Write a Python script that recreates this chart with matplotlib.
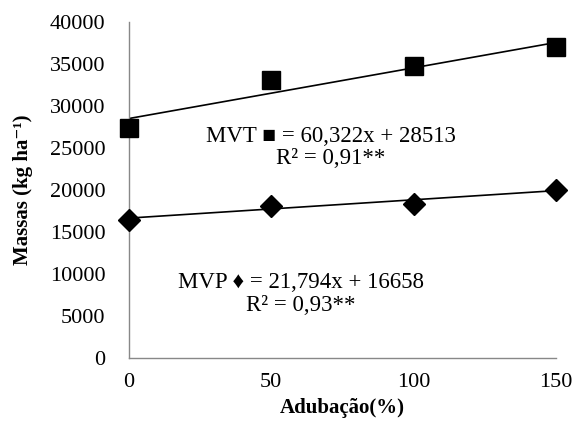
import numpy as np
import matplotlib.pyplot as plt

"------------------------------------DATA------------------------------------"
adubacao = [0, 50, 100, 150]
mvt = [27400, 33100, 34750, 37000]
mvp = [16450, 18100, 18350, 20000]

# regression coefficients shown on the chart
mvt_slope, mvt_inter = 60.322, 28513
mvp_slope, mvp_inter = 21.794, 16658

yticks = [0, 5000, 10000, 15000, 20000, 25000, 30000, 35000, 40000]
xticks = [0, 50, 100, 150]

"------------------------------------PLOT------------------------------------"
plt.rcParams['font.family'] = ['Liberation Serif', 'DejaVu Serif']

fig = plt.figure(figsize=(5.79, 4.21), dpi=100)
ax = fig.add_axes([0.2228, 0.1496, 0.7372, 0.7981])

x_fit = np.array([adubacao[0], adubacao[-1]])
ax.plot(x_fit, mvt_slope*x_fit + mvt_inter, color='black', lw=1.2)
ax.plot(x_fit, mvp_slope*x_fit + mvp_inter, color='black', lw=1.2)

ax.plot(adubacao, mvt, ls='none', marker='s', ms=13, color='black', clip_on=False, zorder=3)
ax.plot(adubacao, mvp, ls='none', marker='D', ms=11.5, color='black', clip_on=False, zorder=3)

ax.set_xlim(0, 150)
ax.set_ylim(0, 40000)
ax.set_xticks(xticks)
ax.set_yticks(yticks)
ax.tick_params(axis='both', length=0, labelsize=16)
ax.tick_params(axis='y', pad=17)
ax.tick_params(axis='x', pad=11)

for side in ['top', 'right']:
    ax.spines[side].set_visible(False)
for side in ['left', 'bottom']:
    ax.spines[side].set_color('#888888')
    ax.spines[side].set_linewidth(1.0)

fam = ['Liberation Serif', 'DejaVu Sans']
ax.text(71, 26400, "MVT \u25a0 = 60,322x + 28513", ha='center', va='center', fontsize=16.5, family=fam)
ax.text(71, 23800, "R\u00b2 = 0,91**", ha='center', va='center', fontsize=16.5, family=fam)
ax.text(60.5, 8950, "MVP \u2666 = 21,794x + 16658", ha='center', va='center', fontsize=16.5, family=fam)
ax.text(60.5, 6300, "R\u00b2 = 0,93**", ha='center', va='center', fontsize=16.5, family=fam)

ax.set_xlabel("Adubação(%)", fontweight='bold', fontsize=15, labelpad=4)
ax.set_ylabel("Massas (kg ha\u207b\u00b9)", fontweight='bold', fontsize=15, labelpad=12,
              family=['Liberation Serif', 'DejaVu Serif'])

plt.savefig("out.png", dpi=100)
